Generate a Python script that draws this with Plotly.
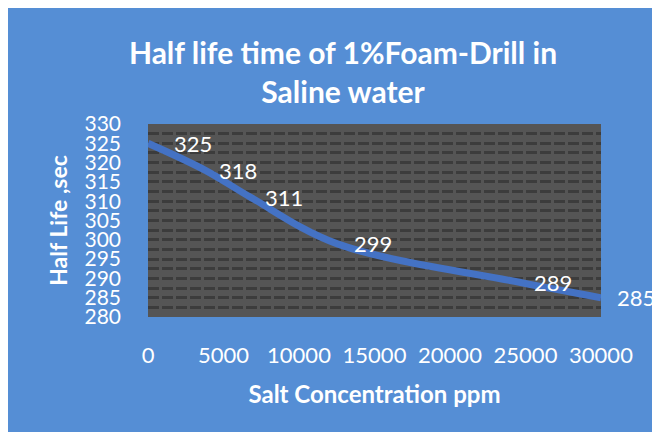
import plotly.graph_objects as go

# Data
salt_ppm = [0, 3800, 6800, 12500, 24600, 30000]
half_life = [325, 318, 311, 299, 289, 285]
label_texts = ["325", "318", "311", "299", "289", "285"]
label_shift = [24, 12, 12, 15, 13, 14]

x_ticks = [0, 5000, 10000, 15000, 20000, 25000, 30000]
y_ticks = [280, 285, 290, 295, 300, 305, 310, 315, 320, 325, 330]

BLUE_BG = "#558ED5"
LINE = "#4472C4"
PLOT_BG = "#555555"
GRID = "#3c3c3c"
FONT = "Lato"

# figure is drawn inside the page body (8px offset from the window)
PL, PR, PT, PB = 140, 593, 116, 309

fig = go.Figure()
fig.add_trace(go.Scatter(
    x=salt_ppm, y=half_life, mode="lines",
    line=dict(color=LINE, width=7, shape="spline", smoothing=1.0),
    hoverinfo="skip", showlegend=False,
))

for xv, yv, t, s in zip(salt_ppm, half_life, label_texts, label_shift):
    fig.add_annotation(x=xv, y=yv, text=t, showarrow=False,
                       xanchor="left", yanchor="middle", xshift=s,
                       font=dict(family=FONT, size=22, color="white"))

fig.update_layout(
    width=660, height=432,
    margin=dict(l=PL, r=660 - PR, t=PT, b=432 - PB, autoexpand=False),
    paper_bgcolor=BLUE_BG,
    plot_bgcolor=PLOT_BG,
    font=dict(family=FONT, color="white"),
    title=dict(
        text="<b>Half life time of 1%Foam-Drill in<br>Saline water</b>",
        x=335 / 660, xanchor="center", xref="container",
        y=1 - 56 / 432, yanchor="middle", yref="container",
        font=dict(family=FONT, size=30, color="white"),
    ),
    xaxis=dict(
        range=[0, 30000], tickmode="array", tickvals=x_ticks,
        ticktext=[str(v) for v in x_ticks], automargin=False,
        showgrid=False, zeroline=False, showline=False,
        ticks="", ticklabelstandoff=23,
        tickfont=dict(family=FONT, size=22, color="white"),
        title=dict(text="<b>Salt Concentration ppm</b>", standoff=19,
                   font=dict(family=FONT, size=24, color="white")),
    ),
    yaxis=dict(
        range=[280, 330], tickmode="array", tickvals=y_ticks,
        ticktext=[str(v) for v in y_ticks], automargin=False,
        showgrid=False, zeroline=False, showline=False,
        ticks="", ticklabelstandoff=26,
        tickfont=dict(family=FONT, size=21, color="white"),
        minor=dict(dtick=2.5, tick0=280, showgrid=True, gridcolor=GRID,
                   gridwidth=3, griddash="11px,3px"),
        title=dict(text="<b>Half Life ,sec</b>", standoff=10,
                   font=dict(family=FONT, size=23, color="white")),
    ),
)

fig.write_html("out.html")
